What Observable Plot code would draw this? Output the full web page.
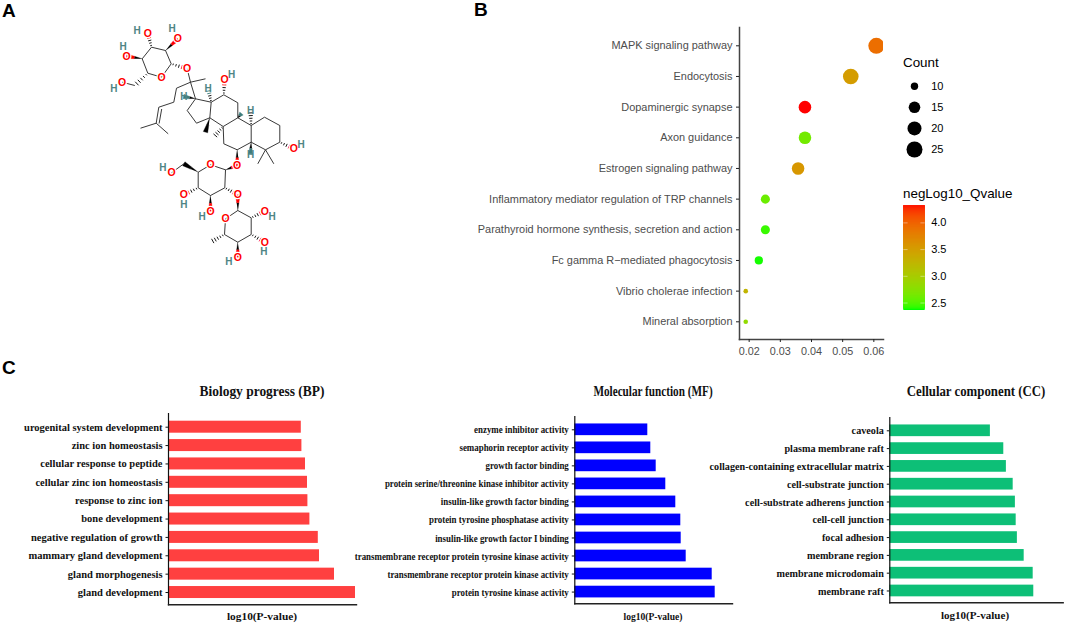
<!DOCTYPE html>
<html><head><meta charset="utf-8">
<script src="https://cdn.jsdelivr.net/npm/d3@7"></script>
<script src="https://cdn.jsdelivr.net/npm/@observablehq/plot@0.6"></script>
<style>
html,body{margin:0;padding:0;background:#fff}
#page{position:relative;width:1065px;height:625px;overflow:hidden;background:#fff}
.t{position:absolute;white-space:nowrap;transform:translateY(-50%);line-height:1}
</style></head><body><div id="page"></div>
<script>
// ---------- Panel B data ----------
const pathways = ["MAPK signaling pathway","Endocytosis","Dopaminergic synapse","Axon guidance","Estrogen signaling pathway","Inflammatory mediator regulation of TRP channels","Parathyroid hormone synthesis, secretion and action","Fc gamma R\u2212mediated phagocytosis","Vibrio cholerae infection","Mineral absorption"];
const geneRatio = [0.0608,0.0526,0.0379,0.0379,0.0357,0.0252,0.0252,0.0231,0.0189,0.0189];
const counts = [25,24,17,17,17,12,12,11,7,7];
const qvalues = [3.9,3.5,4.32,2.62,3.55,2.58,2.42,2.37,3.25,2.8];
const sizeLegend = [10,15,20,25];
const colorTicks = [2.5,3,3.5,4];
// ---------- Panel C data ----------
const bpTerms = ["urogenital system development","zinc ion homeostasis","cellular response to peptide","cellular zinc ion homeostasis","response to zinc ion","bone development","negative regulation of growth","mammary gland development","gland morphogenesis","gland development"];
const bpValues = [6.64,6.67,6.85,6.95,6.97,7.07,7.49,7.55,8.3,9.35];
const mfTerms = ["enzyme inhibitor activity","semaphorin receptor activity","growth factor binding","protein serine/threonine kinase inhibitor activity","insulin-like growth factor binding","protein tyrosine phosphatase activity","insulin-like growth factor I binding","transmembrane receptor protein tyrosine kinase activity","transmembrane receptor protein kinase activity","protein tyrosine kinase activity"];
const mfValues = [3.65,3.8,4.07,4.55,5.05,5.3,5.32,5.57,6.87,7.02];
const ccTerms = ["caveola","plasma membrane raft","collagen-containing extracellular matrix","cell-substrate junction","cell-substrate adherens junction","cell-cell junction","focal adhesion","membrane region","membrane microdomain","membrane raft"];
const ccValues = [5.03,5.7,5.83,6.17,6.28,6.32,6.38,6.72,7.17,7.2];
// ---------- Panel A data (structure drawing) ----------
const molBonds = [[170.7,63.3,165,50],[165,50,151,46.7],[151,46.7,141.7,58.3],[141.7,58.3,147.3,72.7],[147.3,72.7,161,76.7],[161,76.7,170.7,63.3],[134.3,85,121.7,81.7],[186.7,68.3,190,81.7],[190,81.7,205,78.3],[190,81.7,176,87.7],[176,87.7,173.3,101.7],[173.3,101.7,158.3,106.7],[158.3,106.7,155.7,122.7],[161.2,108.5,158.6,123],[155.7,122.7,140,127.7],[155.7,122.7,167.7,133.3],[190,81.7,195,98.3],[195,98.3,186.7,110],[186.7,110,196,122.7],[196,122.7,209.3,117.3],[209.3,117.3,210.7,101.7],[210.7,101.7,195,98.3],[210.7,101.7,223.3,94.3],[223.3,94.3,237.3,102.3],[237.3,102.3,237.3,117.3],[237.3,117.3,222.7,126],[222.7,126,209.3,117.3],[237.3,117.3,250.7,125],[222.7,126,223.3,143.3],[223.3,143.3,236.7,149.3],[236.7,149.3,250.7,141.7],[250.7,141.7,250.7,125],[250.7,125,264,116.7],[264,116.7,279.3,125],[279.3,125,279.3,141.7],[279.3,141.7,265,149.3],[265,149.3,250.7,141.7],[265,149.3,257.3,163.3],[265,149.3,273.3,163.3],[225,169.3,210,164.3],[210,164.3,197.7,171.7],[197.7,171.7,197.7,187.3],[197.7,187.3,210,195],[210,195,224.3,187.3],[224.3,187.3,225,169.3],[183.3,163.3,171,172.3],[237.3,210,225,218.3],[225,218.3,224,234],[224,234,237.3,241.7],[237.3,241.7,250.7,234],[250.7,234,250.7,217.3],[250.7,217.3,237.3,210]];
const molWedges = [[165,50,177.3,38.3,"#f00"],[141.7,58.3,126,55.7,"#f00"],[195,98.3,183,96,"#3c7c7c"],[236.7,149.3,236.7,165,"#f00"],[225,169.3,236.7,165,"#f00"],[197.7,171.7,183.3,163.3,"#000"],[210,195,210,210.7,"#f00"],[237.3,210,237.3,194.3,"#f00"],[237.3,241.7,237.3,256.7,"#f00"],[209.3,117.3,205,131.7,"#000"],[237.3,117.3,241,113,"#3c7c7c"],[250.7,141.7,250,154,"#3c7c7c"]];
const molHashes = [[151,46.7,147.3,32.7,"#f00"],[147.3,72.7,134.3,85,"#000"],[170.7,63.3,186.7,68.3,"#f00"],[210.7,101.7,207.7,88.3,"#3c7c7c"],[223.3,94.3,224,79.3,"#f00"],[222.7,126,213.3,136.7,"#000"],[250.7,125,250,110,"#000"],[279.3,141.7,293.3,148.3,"#f00"],[197.7,187.3,183.3,194.3,"#f00"],[224.3,187.3,237.3,194.3,"#f00"],[250.7,217.3,264.3,210.7,"#f00"],[250.7,234,264.3,241.7,"#f00"],[224,234,210,241.7,"#000"]];
const molOxygens = [[177.3,38.3],[147.3,32.7],[126,55.7],[161,76.7],[121.7,81.7],[186.7,68.3],[224,79.3],[293.3,148.3],[236.7,165],[210,164.3],[171,172.3],[183.3,194.3],[210,210.7],[237.3,194.3],[225,218.3],[264.3,210.7],[264.3,241.7],[237.3,256.7]];
const molHydrogens = [[171.5,28.5],[136.7,30.7],[122.7,46],[113.3,88.3],[231,74],[183.3,96],[207.7,88.3],[250,110],[250,154],[300.7,144],[162.3,167.3],[183.3,204.3],[201.7,216],[271.7,216],[263.3,251.7],[228.3,261.7]];

const page = document.getElementById("page");
function place(svg,left,top){svg.style.position="absolute";svg.style.left=left+"px";svg.style.top=top+"px";page.appendChild(svg);}
function label(text,x,y,css,k){const d=document.createElement("div");d.className="t";d.textContent=text;d.style.left=x+"px";d.style.top=y+"px";d.style.cssText+=css;if(k)d.style.transform="translate(-50%,-50%) scaleX("+k+")";page.appendChild(d);}

// Panel letters
const letterCss="font:bold 19px 'Liberation Sans';color:#000;";
label("A",2,11,letterCss);label("B",474,10,letterCss);label("C",2,368,letterCss);

// ---------- Panel A ----------
const wedgePolys=[];
molWedges.forEach(([x1,y1,x2,y2,c],i)=>{
  const dx=x2-x1,dy=y2-y1,l=Math.hypot(dx,dy),nx=-dy/l,ny=dx/l,w=2.3;
  const mx=(x1+x2)/2,my=(y1+y2)/2;
  [[x1,y1],[mx+nx*w/2,my+ny*w/2],[mx-nx*w/2,my-ny*w/2]].forEach(p=>wedgePolys.push({id:"a"+i,x:p[0],y:p[1],c:"#000"}));
  [[mx+nx*w/2,my+ny*w/2],[x2+nx*w,y2+ny*w],[x2-nx*w,y2-ny*w],[mx-nx*w/2,my-ny*w/2]].forEach(p=>wedgePolys.push({id:"b"+i,x:p[0],y:p[1],c}));
});
const hashLines=[];
molHashes.forEach(([x1,y1,x2,y2,c])=>{
  const dx=x2-x1,dy=y2-y1,l=Math.hypot(dx,dy),nx=-dy/l,ny=dx/l;
  [0.12,0.3,0.48,0.66,0.84].forEach(t=>{const w=0.6+2.2*t,px=x1+dx*t,py=y1+dy*t;
    hashLines.push({x1:px+nx*w,y1:py+ny*w,x2:px-nx*w,y2:py-ny*w,c:t<0.5?"#000":c});});
});
place(Plot.plot({
  width:240,height:260,margin:0,style:{background:"none"},
  x:{domain:[90,330],range:[0,240],axis:null},
  y:{domain:[15,275],range:[0,260],axis:null},
  marks:[
    Plot.link(molBonds,{x1:d=>d[0],y1:d=>d[1],x2:d=>d[2],y2:d=>d[3],stroke:"#222",strokeWidth:0.9}),
    Plot.line(wedgePolys,{x:"x",y:"y",z:"id",fill:"c",stroke:"c",strokeWidth:0.3}),
    Plot.link(hashLines,{x1:"x1",y1:"y1",x2:"x2",y2:"y2",stroke:"c",strokeWidth:0.9}),
    Plot.text(molOxygens,{x:d=>d[0],y:d=>d[1],text:()=>"O",fill:"#f00",fontWeight:"bold",fontSize:10.5,fontFamily:"Liberation Sans",stroke:"#fff",strokeWidth:2.5,paintOrder:"stroke"}),
    Plot.text(molHydrogens,{x:d=>d[0],y:d=>d[1],text:()=>"H",fill:"#4f8585",fontWeight:"bold",fontSize:10,fontFamily:"Liberation Sans"})
  ]}),90,15);

// ---------- Panel B ----------
const colorScale={type:"linear",domain:[2.36,4.32],range:["#00ff00","#ff0000"],interpolate:"lab"};
const rScale={type:"linear",domain:[7,10,15,20,25,26],range:[2.3,3.7,5.8,7,8,8.2]};
const dots=pathways.map((p,i)=>({p,x:geneRatio[i],n:counts[i],q:qvalues[i]}));
place(Plot.plot({
  width:420,height:345,marginLeft:269,marginRight:7,marginTop:7,marginBottom:26,
  style:{background:"none",fontFamily:"Liberation Sans"},
  x:{domain:[0.0169,0.0631]},
  y:{type:"point",domain:pathways,range:[25.3,301.3],padding:0,round:false},
  color:colorScale,r:rScale,
  marks:[
    Plot.dot(dots,{x:"x",y:"p",r:"n",fill:"q",clip:true}),
    Plot.frame({anchor:"left",stroke:"#444",strokeWidth:1.5}),
    Plot.frame({anchor:"bottom",stroke:"#444",strokeWidth:1.5}),
    Plot.axisY({label:null,tickSize:3,tickPadding:4,fontSize:10.95,color:"#4d4d4d",stroke:"#222"}),
    Plot.axisX({ticks:[0.02,0.03,0.04,0.05,0.06],tickFormat:".2f",label:null,tickSize:3,tickPadding:5,fontSize:10.8,color:"#4d4d4d",stroke:"#222"})
  ]}),470,20);

// Size legend
label("Count",903,62,"font:13.4px 'Liberation Sans';color:#000;");
place(Plot.plot({
  width:70,height:90,marginLeft:0,marginRight:0,marginTop:0,marginBottom:0,
  style:{background:"none",fontFamily:"Liberation Sans"},
  x:{domain:[0,70],range:[0,70],axis:null},
  y:{type:"point",domain:sizeLegend,range:[10.7,74],padding:0,round:false,axis:null},
  r:rScale,
  marks:[
    Plot.dot(sizeLegend,{x:()=>19,y:d=>d,r:d=>d,fill:"#000"}),
    Plot.text(sizeLegend,{x:()=>48,y:d=>d,text:d=>String(d),textAnchor:"end",fontSize:11,fill:"#000"})
  ]}),895,75);

// Colour legend (ramp of the colour scale; strips overlap so no seams show)
label("negLog10_Qvalue",903,193,"font:13.4px 'Liberation Sans';color:#000;");
const ramp=d3.range(2.36,4.32,0.02);
place(Plot.plot({
  width:70,height:125,marginLeft:8.3,marginRight:40.3,marginTop:10.3,marginBottom:10,
  style:{background:"none",fontFamily:"Liberation Sans"},
  x:{domain:[0,1],axis:null},
  y:{domain:[2.36,4.32],axis:null},
  color:colorScale,
  marks:[
    Plot.rect(ramp,{x1:()=>0,x2:()=>1,y1:d=>d,y2:d=>Math.min(d+0.08,4.32),fill:d=>d,inset:0}),
    Plot.ruleY(colorTicks,{x1:()=>0,x2:()=>0.2,stroke:"#fff",strokeOpacity:0.7,strokeWidth:0.6}),
    Plot.ruleY(colorTicks,{x1:()=>0.8,x2:()=>1,stroke:"#fff",strokeOpacity:0.7,strokeWidth:0.6}),
    Plot.text(colorTicks,{x:()=>1,y:d=>d,dx:6,text:d=>d.toFixed(1),textAnchor:"start",fontSize:11,fill:"#000"})
  ]}),895,195);

// ---------- Panel C ----------
function barPanel({terms,values,max,fill,left,axisX,endX,top,bottom,c0,step,bar,font,hscale}){
  const n=terms.length,pi=1-bar/step,po=pi;
  const r0=c0-(po+(1-pi)/2)*step, r1=r0+step*(n-pi+2*po);
  const svg=Plot.plot({
    width:endX-left+3,height:bottom-top+8,marginLeft:axisX-left,marginRight:3,marginTop:0,marginBottom:8,
    style:{background:"none",fontFamily:"Liberation Serif"},
    x:{domain:[0,max],axis:null},
    y:{type:"band",domain:terms,range:[r0-top,r1-top],paddingInner:pi,paddingOuter:po,round:false},
    marks:[
      Plot.barX(terms.map((t,i)=>({t,v:values[i]})),{x:"v",y:"t",fill}),
      Plot.frame({anchor:"left",stroke:"#111",strokeWidth:1.2}),
      Plot.frame({anchor:"bottom",stroke:"#222",strokeWidth:1.4}),
      Plot.axisY({label:null,tickSize:2.5,tickPadding:3.5,fontSize:font,fontWeight:"bold",color:"#111",stroke:"#111"})
    ]});
  place(svg,left,top);
  // the reference's labels are set in a condensed cut: narrow the glyphs of the real text
  svg.querySelectorAll("text").forEach(t=>{
    const w=t.getComputedTextLength();
    t.setAttribute("textLength",w*hscale);
    t.setAttribute("lengthAdjust","spacingAndGlyphs");
  });
}
barPanel({terms:bpTerms,values:bpValues,max:9.4,fill:"#ff4040",left:0,axisX:168,endX:356,top:413,bottom:604.3,c0:426.7,step:18.37,bar:12,font:10.5,hscale:1});
barPanel({terms:mfTerms,values:mfValues,max:7.885,fill:"#0000ff",left:350,axisX:574.3,endX:732,top:416,bottom:603.3,c0:429.3,step:18.03,bar:11.7,font:11,hscale:0.81});
barPanel({terms:ccTerms,values:ccValues,max:8.67,fill:"#0dbf77",left:700,axisX:889.3,endX:1062.7,top:416.7,bottom:602,c0:430,step:17.8,bar:11.7,font:11,hscale:0.925});

const titleCss="font:bold 14px 'Liberation Serif';color:#111;";
label("Biology progress (BP)",262,392,titleCss,0.96);
label("Molecular function (MF)",653,392,titleCss,0.8);
label("Cellular component (CC)",975.5,392,titleCss,0.915);
const xCss="font:bold 11.4px 'Liberation Serif';color:#111;";
label("log10(P-value)",262,616,xCss,1);
label("log10(P-value)",652.7,616,xCss,0.84);
label("log10(P-value)",975,615,xCss,0.97);
</script></body></html>
